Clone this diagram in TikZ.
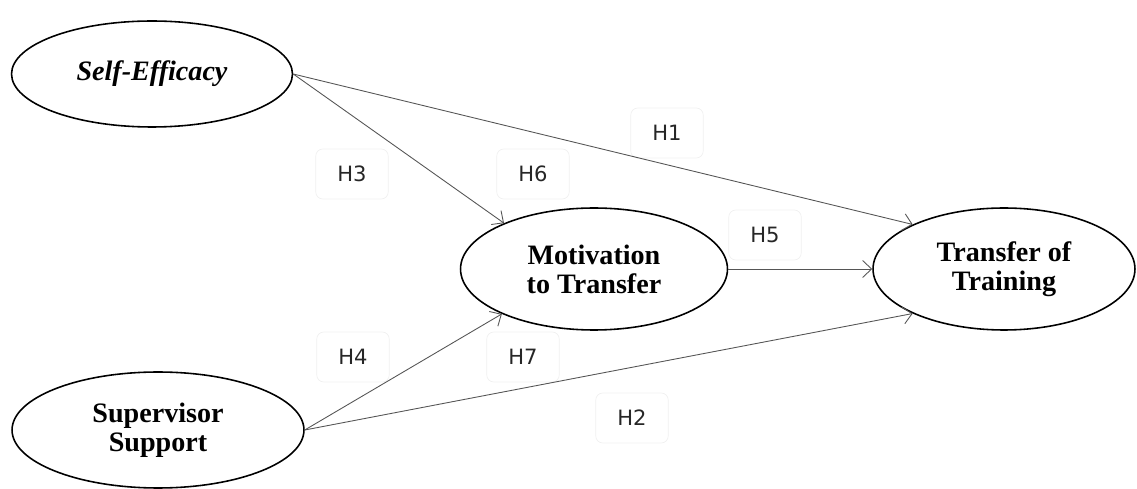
\documentclass[tikz,border=0pt]{standalone}
\usepackage{fontspec}
\setmainfont{Liberation Serif}
\newfontfamily\etqfont{DejaVu Sans}
\usetikzlibrary{arrows.meta,shapes.geometric}
\definecolor{clinea}{HTML}{555555}
\definecolor{ctexto}{HTML}{262626}
\definecolor{cmarco}{HTML}{F0F0F0}
\tikzset{
  elipse/.style={ellipse, draw=black, line width=0.9pt, fill=white, align=center,
    font=\fontsize{16}{16.5}\selectfont\bfseries, inner sep=0pt},
  flecha/.style={-{Straight Barb[length=1.8mm,width=3.4mm]}, draw=clinea, line width=0.5pt},
  etq/.style={rectangle, rounded corners=4pt, draw=cmarco, line width=0.4pt,
    minimum width=1.45cm, minimum height=1cm, text=ctexto,
    font=\etqfont\fontsize{12}{14}\selectfont},
}

\begin{document}
\begin{tikzpicture}[x=0.02cm,y=-0.02cm]
  \useasboundingbox (0,0) rectangle (1137,489);
  % constructos
  \node[elipse, minimum width=5.62cm, minimum height=2.12cm] (se) at (152,74) {\itshape Self-Efficacy};
  \node[elipse, minimum width=5.34cm, minimum height=2.44cm] (mt) at (594,269) {Motivation\\to Transfer};
  \node[elipse, minimum width=5.24cm, minimum height=2.44cm] (tt) at (1004,269) {Transfer of\\Training};
  \node[elipse, minimum width=5.84cm, minimum height=2.32cm] (ss) at (158,430) {Supervisor\\Support};
  % hipotesis
  \node[etq] (h1) at (667,133) {H1};
  \node[etq] (h2) at (632,418) {H2};
  \node[etq] (h3) at (352,174) {H3};
  \node[etq] (h4) at (353,357) {H4};
  \node[etq] (h5) at (765,235) {H5};
  \node[etq] (h6) at (533,174) {H6};
  \node[etq] (h7) at (523,357) {H7};
  % relaciones
  \draw[flecha] (se.east)--(tt.154); \draw[flecha] (se.east)--(mt.153);
  \draw[flecha] (ss.east)--(mt.206); \draw[flecha] (ss.east)--(tt.206);
  \draw[flecha] (mt.east)--(tt.west);
\end{tikzpicture}
\end{document}
